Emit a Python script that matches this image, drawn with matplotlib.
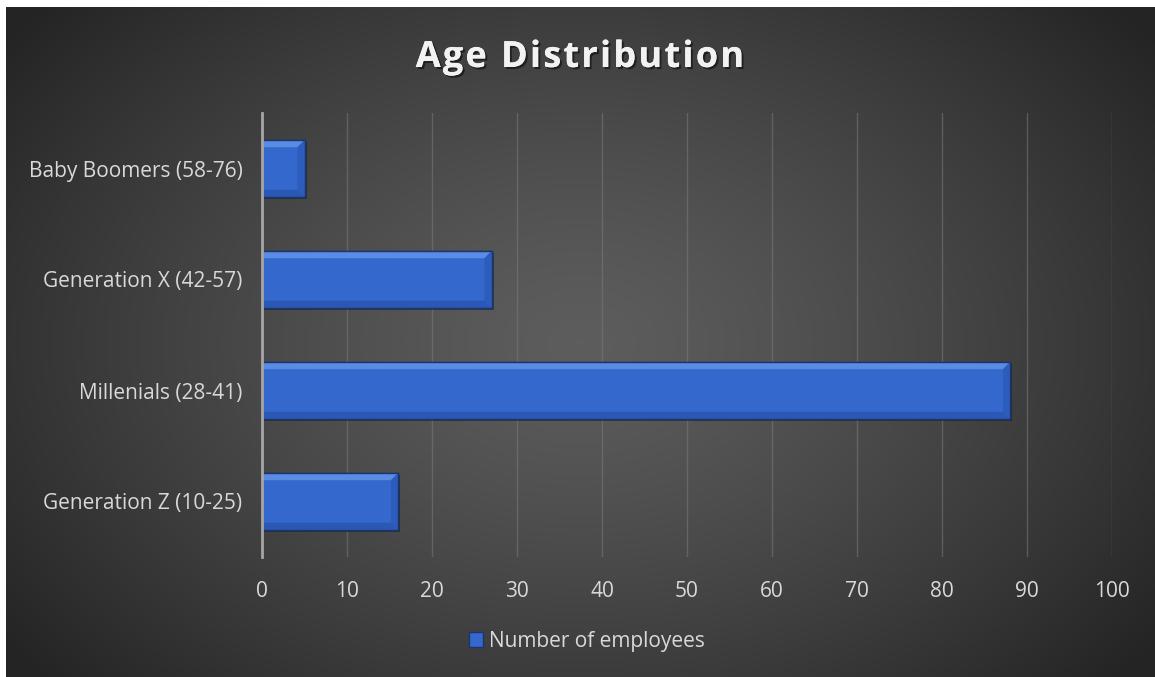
import numpy as np
import matplotlib
matplotlib.use("Agg")
import matplotlib.pyplot as plt
from matplotlib.patches import Polygon, Rectangle, Patch
import matplotlib.patheffects as pe

categories = ["Generation Z (10-25)", "Millenials (28-41)", "Generation X (42-57)", "Baby Boomers (58-76)"]
values = [16, 88, 27, 5]
xticks = [0, 10, 20, 30, 40, 50, 60, 70, 80, 90, 100]
title = "Age Distribution"
series_name = "Number of employees"

W, H = 1155, 677
fig = plt.figure(figsize=(W / 100, H / 100), dpi=100, facecolor="white")

# background radial gradient
bg = fig.add_axes([6 / W, 0, 1 - 6 / W, 1 - 7 / H])
bg.set_axis_off()
yy, xx = np.mgrid[0:1:400j, 0:1:700j]
r = np.sqrt(((xx - 0.5) / 0.62) ** 2 + ((yy - 0.5) / 0.75) ** 2)
r = np.clip(r, 0, 1)
c0, c1 = 0.365, 0.145
img = c0 + (c1 - c0) * r ** 1.3
bg.imshow(np.dstack([img, img, img]), aspect="auto", extent=[0, 1, 0, 1], interpolation="bicubic")
bg.set_xlim(0, 1)
bg.set_ylim(0, 1)

ax = fig.add_axes([262 / W, 1 - 557 / H, (1112 - 262) / W, (557 - 113) / H])
ax.patch.set_alpha(0)
ax.set_xlim(0, 100)
ax.set_ylim(-0.5, len(categories) - 0.5)
ax.set_xticks(xticks)
ax.set_yticks(range(len(categories)))
ax.set_yticklabels(categories)
for s in ["top", "right", "bottom"]:
    ax.spines[s].set_visible(False)
ax.spines["left"].set_color("#a6a6a6")
ax.spines["left"].set_linewidth(2)
ax.spines["left"].set_zorder(5)
ax.grid(axis="x", color="#7a7a7a", linewidth=1, alpha=0.55)
ax.set_axisbelow(True)
ax.tick_params(length=0, labelcolor="#d9d9d9", labelsize=15)
ax.tick_params(axis="y", pad=14)
ax.tick_params(axis="x", pad=17)
for lab in ax.get_xticklabels() + ax.get_yticklabels():
    lab.set_fontfamily("Open Sans")

# bevelled bars
bar_h = 0.51
px_x = (1112 - 262) / 100.0
px_y = (557 - 113) / len(categories)
bx = 7 / px_x
by = 7 / px_y
face = "#3468cc"
for i, v in enumerate(values):
    y0, y1 = i - bar_h / 2, i + bar_h / 2
    ax.add_patch(Rectangle((0, y0 - 2 / px_y), v + 2 / px_x, bar_h, facecolor="black", alpha=0.35,
                           edgecolor="none", zorder=2))
    ax.add_patch(Rectangle((0, y0), v, bar_h, facecolor=face, edgecolor="#1b3570", linewidth=1.0, zorder=3))
    ax.add_patch(Polygon([(0, y1), (v, y1), (v - bx, y1 - by), (0, y1 - by)], closed=True,
                         facecolor="#5a8ce4", edgecolor="none", zorder=3.5))
    ax.add_patch(Polygon([(0, y0), (v, y0), (v - bx, y0 + by), (0, y0 + by)], closed=True,
                         facecolor="#2a58b4", edgecolor="none", zorder=3.5))
    ax.add_patch(Polygon([(v, y0), (v, y1), (v - bx, y1 - by), (v - bx, y0 + by)], closed=True,
                         facecolor="#2c5cbc", edgecolor="none", zorder=3.5))
    ax.add_patch(Rectangle((0, y0), v, bar_h, facecolor="none", edgecolor="#1b3570", linewidth=1.0, zorder=4))

# title with letter spacing
renderer = fig.canvas.get_renderer()
tprops = dict(color="#f2f2f2", fontsize=26, fontweight="bold", fontfamily="Open Sans", va="center", ha="left",
              path_effects=[pe.withSimplePatchShadow(offset=(1.5, -1.5), shadow_rgbFace="black", alpha=0.5),
                            pe.Normal()])
spacing = 2.2  # px between letters
widths = []
for ch in title:
    t = fig.text(0, 0, ch if ch != " " else "a", **tprops)
    bb = t.get_window_extent(renderer)
    w = bb.width if ch != " " else bb.width * 0.45
    widths.append(w)
    t.remove()
total = sum(widths) + spacing * (len(title) - 1)
x = 580 - total / 2
for ch, w in zip(title, widths):
    if ch != " ":
        fig.text(x / W, 1 - 58 / H, ch, **tprops)
    x += w + spacing

# legend
leg = fig.legend(handles=[Patch(facecolor="#3468cc", edgecolor="#1b3570", label=series_name)],
                 loc="center", bbox_to_anchor=(587 / W, 1 - 641 / H), frameon=False,
                 handlelength=0.7, handleheight=0.7, handletextpad=0.3,
                 prop={"family": "Open Sans", "size": 15})
for t in leg.get_texts():
    t.set_color("#d9d9d9")

fig.savefig("out.png", dpi=100, facecolor="white")
